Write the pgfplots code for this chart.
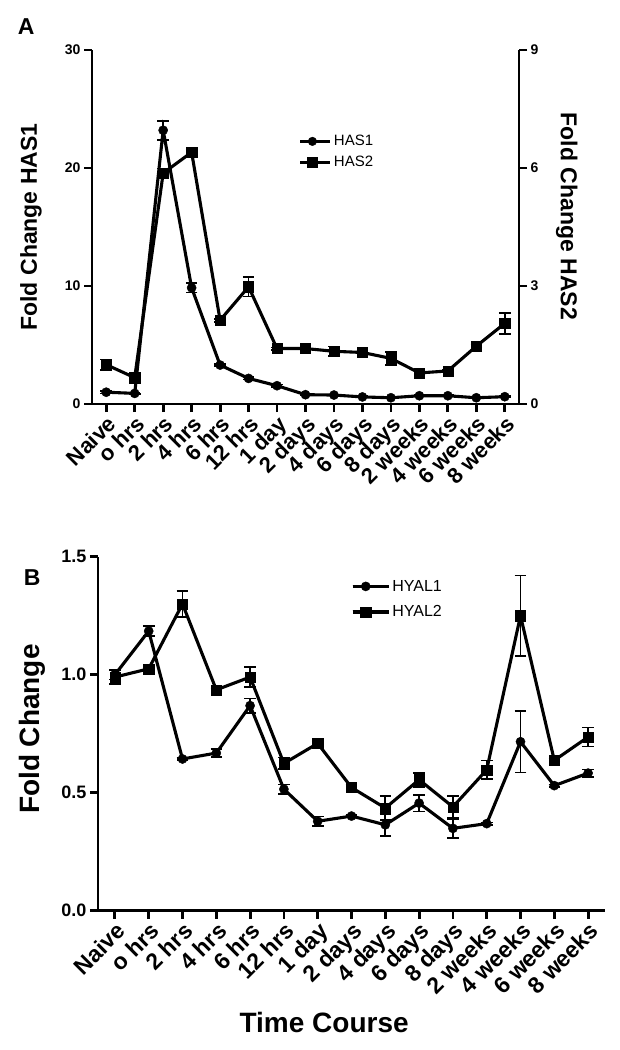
\documentclass[border=0pt]{standalone}
\usepackage{fontspec}
\setmainfont{Liberation Sans}
\usepackage{pgfplots}
\usepackage{pgfplotstable}
\pgfplotsset{compat=1.18}

\pgfplotstableread{
x y e
0 1.0 0.1
1 0.9 0.05
2 23.2 0.8
3 9.85 0.4
4 3.3 0.1
5 2.17 0.1
6 1.55 0.1
7 0.79 0.05
8 0.76 0.05
9 0.6 0.05
10 0.53 0.05
11 0.7 0.05
12 0.7 0.05
13 0.53 0.05
14 0.62 0.05
}\hasone

\pgfplotstableread{
x y e
0 1.0 0.13
1 0.67 0.03
2 5.87 0.12
3 6.4 0.05
4 2.13 0.04
5 2.98 0.25
6 1.41 0.03
7 1.41 0.03
8 1.34 0.12
9 1.31 0.03
10 1.16 0.17
11 0.79 0.03
12 0.84 0.03
13 1.47 0.03
14 2.05 0.27
}\hastwo

\pgfplotstableread{
x y e
0 1.0 0.02
1 1.185 0.02
2 0.643 0.005
3 0.668 0.018
4 0.869 0.03
5 0.515 0.02
6 0.379 0.02
7 0.401 0.005
8 0.364 0.046
9 0.456 0.035
10 0.349 0.04
11 0.369 0.005
12 0.716 0.13
13 0.53 0.005
14 0.583 0.015
}\hyalone

\pgfplotstableread{
x y e
0 0.99 0.03
1 1.025 0.005
2 1.30 0.055
3 0.936 0.005
4 0.99 0.042
5 0.624 0.025
6 0.709 0.005
7 0.522 0.01
8 0.435 0.05
9 0.555 0.03
10 0.44 0.045
11 0.597 0.04
12 1.25 0.17
13 0.637 0.005
14 0.736 0.04
}\hyaltwo

\pgfplotsset{
  base/.style={
    scale only axis,
    clip=false,
    xmin=-0.5, xmax=14.5,
    axis line style={line width=2.8pt},
    tick style={line width=2.8pt, black},
    major tick length=8pt,
    tick align=outside,
    /pgf/number format/assume math mode=true,
    xtick={0,...,14},
    xticklabels={Naive,o hrs,2 hrs,4 hrs,6 hrs,12 hrs,1 day,2 days,4 days,6 days,8 days,2 weeks,4 weeks,6 weeks,8 weeks},
    legend cell align=left,
  },
  ser/.style={black, line width=3.1pt, mark options={solid, line width=0.4pt},
    error bars/y dir=both, error bars/y explicit,
    error bars/error bar style={line width=1.7pt},
    error bars/error mark options={rotate=90, mark size=5.8pt, line width=1.7pt}},
  circ/.style={ser, mark=*, mark size=4.6pt},
  sq/.style={ser, mark=square*, mark size=5.1pt},
  legc/.style={black, line width=3.1pt, mark options={solid, line width=0.4pt}, mark=*, mark size=4.3pt},
}

\begin{document}
\begin{tikzpicture}
\useasboundingbox (0pt,0pt) rectangle (619pt,-1050pt);

% Panel A, left axis
\begin{axis}[base,
  at={(92pt,-404pt)}, anchor=south west,
  width=427pt, height=354pt,
  axis x line*=bottom, axis y line*=left,
  ymin=0, ymax=30, ytick={0,10,20,30},
  yticklabel style={font=\fontsize{14}{17}\selectfont\bfseries},
  xticklabel style={rotate=45, anchor=north east, inner sep=1.5pt, font=\fontsize{22}{26}\selectfont\bfseries},
  every axis y label/.style={at={(axis description cs:-0.143,0.5)}, rotate=90, anchor=center},
  ylabel={\fontsize{23}{27}\selectfont\bfseries Fold Change HAS1},
]
\addplot[circ] table[x=x, y=y, y error=e] {\hasone};
\node[font=\fontsize{23}{26}\selectfont\bfseries] at (axis description cs:-0.154,1.065) {A};
\end{axis}

% Panel A, right axis
\begin{axis}[base,
  at={(92pt,-404pt)}, anchor=south west,
  width=427pt, height=354pt,
  axis x line=none, axis y line*=right,
  ymin=0, ymax=9, ytick={0,3,6,9},
  yticklabel style={font=\fontsize{14}{17}\selectfont\bfseries},
  every axis y label/.style={at={(axis description cs:1.112,0.53)}, rotate=-90, anchor=center},
  ylabel={\fontsize{23}{27}\selectfont\bfseries Fold Change HAS2},
  legend image code/.code={%
      \path (0pt,0pt) -- (30pt,0pt);
      \draw[mark repeat=2,mark phase=2,#1] plot coordinates {(0pt,0pt) (12pt,0pt) (24pt,0pt)};},
  legend style={at={(axis description cs:0.484,0.765)}, anchor=north west, draw=none, fill=none,
    font=\fontsize{15}{18}\selectfont, row sep=5pt, inner sep=0pt},
]
\addlegendimage{legc}
\addlegendentry{HAS1}
\addplot[sq] table[x=x, y=y, y error=e] {\hastwo};
\addlegendentry{HAS2}
\end{axis}

% Panel B
\begin{axis}[base,
  at={(98pt,-910.7pt)}, anchor=south west,
  width=507pt, height=354pt,
  axis x line*=bottom, axis y line*=left,
  ymin=0, ymax=1.5, ytick={0,0.5,1.0,1.5},
  yticklabel style={font=\fontsize{18}{21}\selectfont\bfseries, /pgf/number format/.cd, fixed, fixed zerofill, precision=1},
  xticklabel style={rotate=45, anchor=north east, inner sep=1.5pt, font=\fontsize{23}{27}\selectfont\bfseries},
  every axis y label/.style={at={(axis description cs:-0.130,0.513)}, rotate=90, anchor=center},
  ylabel={\fontsize{28}{32}\selectfont\bfseries Fold Change},
  every axis x label/.style={at={(axis description cs:0.446,-0.315)}, anchor=center},
  xlabel={\fontsize{28}{32}\selectfont\bfseries Time Course},
  legend image code/.code={%
      \path (0pt,0pt) -- (36pt,0pt);
      \draw[mark repeat=2,mark phase=2,#1] plot coordinates {(0pt,0pt) (13pt,0pt) (26pt,0pt)};},
  legend style={at={(axis description cs:0.499,0.94)}, anchor=north west, draw=none, fill=none,
    font=\fontsize{16}{19}\selectfont, row sep=9pt, inner sep=0pt},
]
\addplot[circ] table[x=x, y=y, y error=e] {\hyalone};
\addlegendentry{HYAL1}
\addplot[sq] table[x=x, y=y, y error=e] {\hyaltwo};
\addlegendentry{HYAL2}
\node[font=\fontsize{23}{26}\selectfont\bfseries] at (axis description cs:-0.130,0.94) {B};
\end{axis}
\end{tikzpicture}
\end{document}
